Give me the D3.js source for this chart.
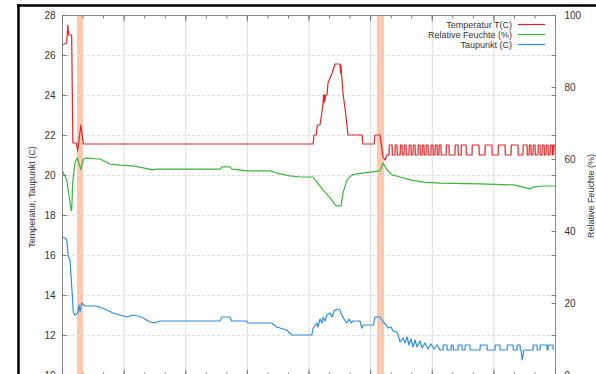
<!DOCTYPE html>
<html>
<head>
<meta charset="utf-8">
<script src="https://cdn.jsdelivr.net/npm/d3@7"></script>
<style>
  body { margin: 0; background: #fff; }
  svg { display: block; }
  text { font-family: "Liberation Sans", Arial, sans-serif; fill: #333; }
</style>
</head>
<body>
<svg id="chart" width="596" height="374"></svg>
<script>
// time in hours since start
const tempBase = [
  [0, 25.3], [0.01, 26.5], [0.23, 26.6], [0.28, 27.5], [0.33, 27.0], [0.47, 27.0],
  [0.53, 21.6], [0.70, 21.6], [0.76, 21.2], [0.92, 22.5], [1.04, 21.55],
  [12.22, 21.55], [12.27, 22.0], [12.38, 22.0], [12.43, 22.5], [12.56, 22.5],
  [12.66, 23.2], [12.71, 23.6], [12.73, 24.0], [12.75, 23.6], [12.77, 24.0],
  [12.80, 23.7], [12.83, 24.0], [12.90, 24.0], [12.95, 24.6], [13.15, 25.1],
  [13.29, 25.55], [13.53, 25.55], [13.56, 25.1], [13.58, 25.5], [13.68, 24.1],
  [13.83, 22.9], [13.92, 22.0], [14.61, 22.0], [14.65, 21.55], [15.19, 21.55],
  [15.24, 22.0], [15.48, 22.0], [15.63, 20.9], [15.73, 20.75], [15.82, 21.0], [15.88, 21.0]
];
// intervals where the temperature sits on the upper level (21.5) instead of 21.0
const tempHigh = [
  [15.92, 16.07], [16.21, 16.31], [16.46, 16.55], [16.65, 16.75], [16.89, 16.99],
  [17.09, 17.19], [17.33, 17.43], [17.53, 17.62], [17.72, 17.82], [17.96, 18.06],
  [18.16, 18.26], [18.35, 18.45], [18.70, 18.84], [19.13, 19.28], [19.43, 19.67],
  [19.96, 20.30], [20.59, 20.93], [21.23, 21.57], [21.86, 22.20], [22.44, 22.64],
  [22.74, 22.83], [22.93, 23.03], [23.17, 23.27], [23.37, 23.47], [23.56, 23.66],
  [23.76, 23.86], [23.91, 24.0]
];
const rhData = [
  [0, 57.0], [0.23, 54.2], [0.31, 50.9], [0.44, 46.0], [0.47, 45.6], [0.52, 53.3],
  [0.63, 58.9], [0.74, 60.3], [0.88, 57.8], [0.92, 57.0], [1.04, 60.0], [1.20, 60.3],
  [1.69, 60.0], [1.85, 60.0], [2.34, 58.6], [2.82, 58.3], [3.46, 58.1], [4.43, 57.0],
  [4.63, 57.2], [7.69, 57.2], [7.79, 57.8], [8.18, 57.8], [8.28, 57.2], [9.01, 56.7],
  [10.13, 56.7], [10.47, 56.1], [11.10, 55.3], [11.59, 55.0], [12.22, 55.0],
  [12.41, 53.6], [12.71, 51.4], [13.05, 49.2], [13.34, 47.0], [13.58, 47.0],
  [13.68, 50.6], [13.88, 54.2], [14.12, 55.6], [14.61, 56.1], [15.14, 56.4],
  [15.48, 56.7], [15.63, 58.9], [15.82, 57.0], [16.07, 55.6], [16.46, 55.0],
  [16.94, 54.2], [17.58, 53.6], [18.40, 53.3], [20.35, 53.1], [22.0, 52.8],
  [22.64, 51.9], [22.78, 51.7], [22.93, 52.2], [23.42, 52.5], [24, 52.5]
];
const dewBase = [
  [0, 16.3], [0.01, 16.9], [0.15, 16.85], [0.23, 16.75], [0.31, 15.9], [0.39, 15.75],
  [0.47, 14.5], [0.55, 13.15], [0.63, 13.0], [0.76, 13.1], [0.83, 13.5], [0.88, 13.15],
  [0.96, 13.6], [1.12, 13.45], [1.61, 13.45], [1.85, 13.4], [2.18, 13.25], [2.48, 13.1],
  [2.82, 13.0], [3.15, 12.9], [3.46, 13.0], [3.88, 12.9], [4.28, 12.65], [4.53, 12.6],
  [4.77, 12.7], [7.69, 12.7], [7.78, 12.9], [8.18, 12.9], [8.26, 12.7], [8.99, 12.7],
  [9.06, 12.6], [10.21, 12.6], [10.45, 12.4], [10.94, 12.25], [11.18, 12.0],
  [12.16, 12.0], [12.23, 12.35], [12.40, 12.6], [12.46, 12.4], [12.56, 12.8],
  [12.66, 12.6], [12.71, 12.9], [12.80, 12.7], [12.90, 13.0], [13.05, 13.1],
  [13.15, 12.9], [13.24, 13.2], [13.37, 13.3], [13.53, 13.25], [13.62, 13.0],
  [13.73, 12.8], [13.86, 12.6], [13.97, 12.8], [14.07, 12.6], [14.18, 12.7],
  [14.51, 12.7], [14.59, 12.35], [14.67, 12.5], [15.16, 12.5], [15.24, 12.9],
  [15.48, 12.9], [15.64, 12.65], [15.77, 12.5], [15.87, 12.35], [16.02, 12.4],
  [16.11, 12.2], [16.30, 12.15], [16.36, 12.0], [16.46, 11.65], [16.60, 11.85],
  [16.70, 11.6], [16.80, 11.9], [16.89, 11.5], [16.99, 11.8], [17.09, 11.4],
  [17.19, 11.75], [17.28, 11.4], [17.43, 11.7], [17.53, 11.35], [17.67, 11.6],
  [17.82, 11.3], [17.96, 11.55], [18.11, 11.3], [18.26, 11.5], [18.40, 11.25],
  [22.35, 11.25], [22.40, 10.75], [22.46, 11.1], [22.49, 11.25]
];
// intervals where the dew point sits on the upper level (11.5) instead of 11.25
const dewHigh = [
  [18.55, 18.74], [18.94, 19.04], [19.28, 19.47], [19.62, 19.86], [20.35, 20.69],
  [21.08, 21.32], [21.67, 21.96], [22.15, 22.30], [22.93, 23.12], [23.27, 23.61],
  [23.66, 23.90]
];
const bands = [[0.73, 1.02], [15.33, 15.68]];
const tempTicks = [10, 12, 14, 16, 18, 20, 22, 24, 26, 28];
const rhTicks = [0, 20, 40, 60, 80, 100];
const hourMajor = [0, 3, 6, 9, 12, 15, 18, 21, 24];
const hourMinor = d3.range(0, 25, 1);
const seriesNames = ["Temperatur T(C)", "Relative Feuchte (%)", "Taupunkt (C)"];
const seriesColors = ["#e0262a", "#3db53d", "#2f8ee0"];

function pulses(list, lo, hi) {
  return list.flatMap(([a, b]) => [[a, lo], [a + 0.012, hi], [b, hi], [b + 0.012, lo]]);
}
const byTime = (p, q) => p[0] - q[0];
const temp = tempBase.concat(pulses(tempHigh, 21.0, 21.5)).sort(byTime);
const dew = dewBase.concat(pulses(dewHigh, 11.25, 11.5)).sort(byTime);

const mLeft = 62, mRight = 555, mTop = 15, mBottom = 375;
const x = d3.scaleLinear().domain([0, 24]).range([mLeft, mRight]);
const yL = d3.scaleLinear().domain([10, 28]).range([mBottom, mTop]);
const yR = d3.scaleLinear().domain([0, 100]).range([mBottom, mTop]);

const svg = d3.select("#chart");

svg.append("clipPath").attr("id", "plot")
  .append("rect").attr("x", mLeft).attr("y", mTop)
  .attr("width", mRight - mLeft).attr("height", mBottom - mTop);

// highlight bands
svg.append("g").selectAll("rect").data(bands).enter().append("rect")
  .attr("x", d => x(d[0])).attr("y", mTop)
  .attr("width", d => x(d[1]) - x(d[0])).attr("height", mBottom - mTop)
  .attr("fill", "#fcc8ae");

// grid
const grid = svg.append("g");
grid.selectAll(".gx").data(hourMajor.slice(1, -1)).enter().append("line")
  .attr("x1", d => x(d) + 0.5).attr("x2", d => x(d) + 0.5)
  .attr("y1", mTop).attr("y2", mBottom)
  .attr("stroke", "#dcdcdc").attr("stroke-width", 1);
grid.selectAll(".gy").data(tempTicks.slice(1, -1)).enter().append("line")
  .attr("x1", mLeft).attr("x2", mRight)
  .attr("y1", d => yL(d) + 0.5).attr("y2", d => yL(d) + 0.5)
  .attr("stroke", "#dedede").attr("stroke-width", 1).attr("stroke-dasharray", "3,2");

// lines
const lineL = d3.line().x(d => x(d[0])).y(d => yL(d[1]));
const lineR = d3.line().x(d => x(d[0])).y(d => yR(d[1]));
const lines = svg.append("g").attr("clip-path", "url(#plot)")
  .attr("fill", "none").attr("stroke-width", 1.2).attr("stroke-linejoin", "round");
lines.append("path").attr("d", lineR(rhData)).attr("stroke", seriesColors[1]);
lines.append("path").attr("d", lineL(dew)).attr("stroke", seriesColors[2]);
lines.append("path").attr("d", lineL(temp)).attr("stroke", seriesColors[0]);

// frame
svg.append("rect").attr("x", mLeft + 0.5).attr("y", mTop + 0.5)
  .attr("width", mRight - mLeft).attr("height", mBottom - mTop)
  .attr("fill", "none").attr("stroke", "#8a8a8a").attr("stroke-width", 1);

function styleAxis(g) {
  g.select(".domain").remove();
  g.selectAll(".tick line").attr("stroke", "#777");
  g.selectAll("text").attr("font-size", 10).attr("fill", "#333")
    .attr("font-family", "'Liberation Sans', Arial, sans-serif");
}

// left axis
svg.append("g").attr("transform", `translate(${mLeft + 0.5},0)`)
  .call(d3.axisLeft(yL).tickValues(tempTicks).tickSize(-4).tickPadding(7))
  .call(styleAxis);
// mirrored temperature ticks on the right edge
svg.append("g").attr("transform", `translate(${mRight + 0.5},0)`)
  .call(d3.axisRight(yL).tickValues(tempTicks).tickSize(-4).tickFormat(""))
  .call(styleAxis);
// right axis
svg.append("g").attr("transform", `translate(${mRight + 0.5},0)`)
  .call(d3.axisRight(yR).tickValues(rhTicks).tickSize(-4).tickPadding(9))
  .call(styleAxis);

// x ticks top and bottom
[["axisBottom", mBottom + 0.5], ["axisTop", mTop + 0.5]].forEach(([fn, pos]) => {
  svg.append("g").attr("transform", `translate(0,${pos})`)
    .call(d3[fn](x).tickValues(hourMinor).tickSize(-3).tickFormat(""))
    .call(styleAxis);
  svg.append("g").attr("transform", `translate(0,${pos})`)
    .call(d3[fn](x).tickValues(hourMajor).tickSize(-6).tickFormat(""))
    .call(styleAxis);
});

// axis titles
svg.append("text").attr("transform", "translate(35,197) rotate(-90)")
  .attr("text-anchor", "middle").attr("font-size", 9).text("Temperatur, Taupunkt (C)");
svg.append("text").attr("transform", "translate(594,196) rotate(-90)")
  .attr("text-anchor", "middle").attr("font-size", 9).text("Relative Feuchte (%)");

// legend
const legend = svg.append("g").selectAll("g").data(seriesNames).enter().append("g")
  .attr("transform", (d, i) => `translate(0,${24 + i * 10})`);
legend.append("text").attr("x", 512).attr("y", 3.5).attr("text-anchor", "end")
  .attr("font-size", 9).text(d => d);
legend.append("line").attr("x1", 518).attr("x2", 545).attr("y1", 0.5).attr("y2", 0.5)
  .attr("stroke", (d, i) => seriesColors[i]).attr("stroke-width", 1.2);

// outer black frame of the screenshot
svg.append("line").attr("x1", 17).attr("x2", 596).attr("y1", 5.5).attr("y2", 5.5)
  .attr("stroke", "#000").attr("stroke-width", 2.5);
svg.append("line").attr("x1", 18.5).attr("x2", 18.5).attr("y1", 4).attr("y2", 374)
  .attr("stroke", "#000").attr("stroke-width", 2.5);
</script>
</body>
</html>
